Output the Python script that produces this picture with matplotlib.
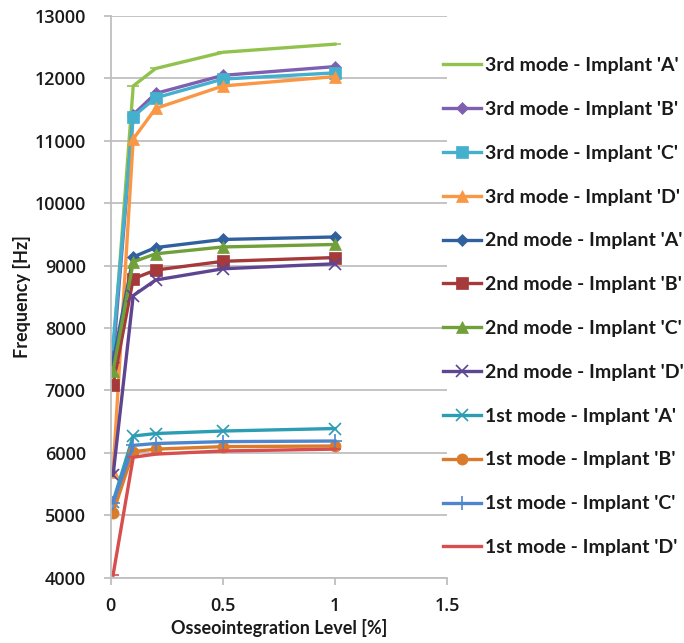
"""Natural frequency vs osseointegration level for four implants."""

import matplotlib

matplotlib.use("Agg")
import matplotlib.pyplot as plt

FONT = "Lato"
TICK_FONT = "Open Sans"
GRID = "#BFBFBF"
TEXT = "#1A1A1A"

# osseointegration level [%]
levels = [0.01, 0.1, 0.2, 0.5, 1.0]

series_labels = [
    "3rd mode - Implant 'A'",
    "3rd mode - Implant 'B'",
    "3rd mode - Implant 'C'",
    "3rd mode - Implant 'D'",
    "2nd mode - Implant 'A'",
    "2nd mode - Implant 'B'",
    "2nd mode - Implant 'C'",
    "2nd mode - Implant 'D'",
    "1st mode - Implant 'A'",
    "1st mode - Implant 'B'",
    "1st mode - Implant 'C'",
    "1st mode - Implant 'D'",
]

mode3_a = [7600, 11880, 12160, 12420, 12550]
mode3_b = [7520, 11420, 11760, 12050, 12190]
mode3_c = [7740, 11390, 11690, 11990, 12090]
mode3_d = [5700, 11030, 11520, 11880, 12030]
mode2_a = [7460, 9140, 9290, 9420, 9460]
mode2_b = [7090, 8790, 8930, 9070, 9130]
mode2_c = [7310, 9060, 9190, 9300, 9340]
mode2_d = [5640, 8520, 8770, 8950, 9030]
mode1_a = [5220, 6270, 6310, 6350, 6390]
mode1_b = [5040, 6020, 6060, 6100, 6110]
mode1_c = [5200, 6120, 6150, 6180, 6190]
mode1_d = [4040, 5930, 5980, 6030, 6060]

series_values = [
    mode3_a, mode3_b, mode3_c, mode3_d,
    mode2_a, mode2_b, mode2_c, mode2_d,
    mode1_a, mode1_b, mode1_c, mode1_d,
]

colors = [
    "#92C24E", "#7E5FB0", "#45B0CE", "#F99744",
    "#30619E", "#A6393A", "#71A03A", "#5E4592",
    "#2C9DB3", "#DA7B2C", "#4E86CE", "#D84D4D",
]
markers = ["_", "D", "s", "^", "D", "s", "^", "x", "x", "o", "+", "_"]
marker_sizes = [8, 6, 8, 8, 6, 8, 8, 9, 9, 8, 10, 8]

figure = plt.figure(figsize=(6.84, 6.43), dpi=100)
axis = figure.add_axes([0.162, 0.1016, 0.4915, 0.8734])

for label, values, color, marker, size in zip(
    series_labels, series_values, colors, markers, marker_sizes
):
    axis.plot(
        levels,
        values,
        color=color,
        linewidth=2.4,
        marker=marker,
        markersize=size,
        markeredgewidth=1.2 if marker in ("x", "+", "_") else 0.5,
        markeredgecolor=color,
        label=label,
    )

axis.set_xlim(0, 1.5)
axis.set_ylim(4000, 13000)
axis.set_xticks([0, 0.5, 1, 1.5], ["0", "0.5", "1", "1.5"])
axis.set_yticks(range(4000, 13001, 1000))
axis.grid(axis="y", color=GRID, linewidth=1.3)
axis.set_axisbelow(True)
for side in ["top", "right"]:
    axis.spines[side].set_visible(False)
for side in ["left", "bottom"]:
    axis.spines[side].set_color(GRID)
    axis.spines[side].set_linewidth(1.3)
axis.tick_params(colors=GRID, length=5, width=1.3, labelcolor=TEXT)
axis.tick_params(axis="y", pad=13)
axis.tick_params(axis="x", pad=9)
for tick in axis.get_xticklabels() + axis.get_yticklabels():
    tick.set_fontfamily(TICK_FONT)
    tick.set_fontsize(13)
    tick.set_fontweight("semibold")

axis.set_xlabel("Osseointegration Level [%]", fontfamily=FONT, fontsize=13,
                fontweight="bold", color=TEXT, labelpad=3)
axis.set_ylabel("Frequency [Hz]", fontfamily=FONT, fontsize=13,
                fontweight="bold", color=TEXT)
axis.yaxis.set_label_coords(-0.238, 0.5)

handles, labels = axis.get_legend_handles_labels()
legend = figure.legend(
    handles,
    labels,
    loc="upper left",
    bbox_to_anchor=(443 / 684, 1 - 57 / 643),
    frameon=False,
    prop={"family": FONT, "size": 14, "weight": "bold"},
    handlelength=1.95,
    handletextpad=0.2,
    labelspacing=1.38,
    borderaxespad=0,
    borderpad=0,
)
for text in legend.get_texts():
    text.set_color(TEXT)

figure.savefig("out.png", dpi=100)
